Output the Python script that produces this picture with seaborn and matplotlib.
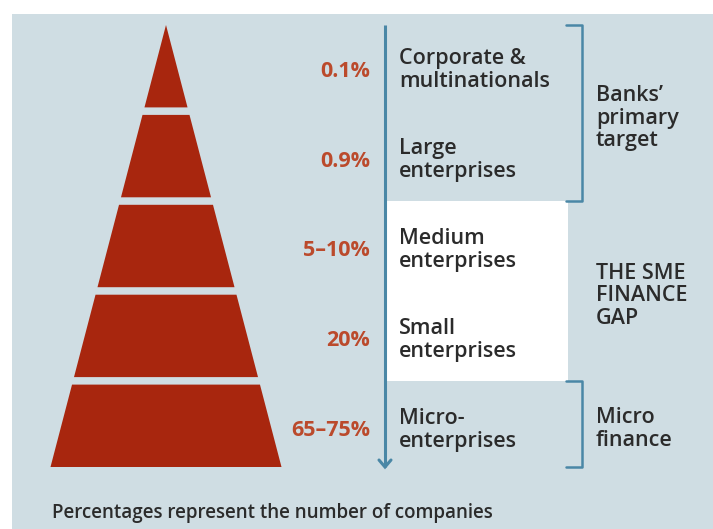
import matplotlib
matplotlib.use("Agg")
import matplotlib.pyplot as plt
import seaborn as sns
from matplotlib.patches import Polygon, Rectangle

# ---- data ----
categories = ["Corporate &\nmultinationals", "Large\nenterprises", "Medium\nenterprises",
              "Small\nenterprises", "Micro-\nenterprises"]
share_labels = ["0.1%", "0.9%", "5\u201310%", "20%", "65\u201375%"]
groups = ["Banks\u2019\nprimary\ntarget", "THE SME\nFINANCE\nGAP", "Micro\nfinance"]
group_tiers = [(0, 1), (2, 3), (4, 4)]
footnote = "Percentages represent the number of companies"

sns.set_theme(style="white")
plt.rcParams['font.family'] = ['Open Sans', 'DejaVu Sans']

BG = "#cfdde3"
RED = "#a8260e"
PCT = "#bb4a2c"
TEAL = "#4a87a6"
TXT = "#2b2b2b"

fig = plt.figure(figsize=(7.13, 5.29), dpi=100)
ax = fig.add_axes([0, 0, 1, 1])
ax.set_xlim(0, 713)
ax.set_ylim(529, 0)
ax.axis("off")

# background panel
ax.add_patch(Rectangle((12, 14), 713 - 12, 529 - 14, facecolor=BG, edgecolor="none", zorder=0))

# pyramid geometry
apex_x, apex_y, base_y, base_half = 166, 25, 467, 115.5
gap = 7.5
n = len(categories)
tier_h = (base_y - apex_y + gap) / n
slope = base_half / (base_y - apex_y)

def half(y):
    return (y - apex_y) * slope

centers = []
for i in range(n):
    top = apex_y + i * tier_h
    bot = top + tier_h - gap
    pts = [(apex_x - half(top), top), (apex_x + half(top), top),
           (apex_x + half(bot), bot), (apex_x - half(bot), bot)]
    ax.add_patch(Polygon(pts, closed=True, facecolor=RED, edgecolor="none", zorder=2))
    centers.append((top + bot) / 2)

# white SME gap box
sme_top = apex_y + 2 * tier_h - gap / 2
sme_bot = apex_y + 4 * tier_h - gap / 2
ax.add_patch(Rectangle((387, sme_top), 568 - 387, sme_bot - sme_top,
                       facecolor="white", edgecolor="none", zorder=1))

# arrow
ax.plot([385, 385], [apex_y, base_y], color=TEAL, lw=2.2, zorder=3, solid_capstyle="butt")
ax.plot([379, 385, 391], [base_y - 7, base_y, base_y - 7], color=TEAL, lw=2.2, zorder=3,
        solid_joinstyle="miter")

# labels
for i in range(n):
    ax.text(370, centers[i] + 5, share_labels[i], ha="right", va="center",
            fontsize=15.5, color=PCT, fontweight="bold", zorder=4)
    ax.text(399, centers[i] + 4, categories[i], ha="left", va="center",
            fontsize=15.5, color=TXT, fontweight="semibold", linespacing=1.1, zorder=4)

# brackets and group labels
for (a, b), g in zip(group_tiers, groups):
    if a == 2:
        y0, y1 = sme_top, sme_bot
    else:
        y0 = apex_y if a == 0 else apex_y + a * tier_h - gap / 2
        y1 = apex_y + (b + 1) * tier_h - gap / 2 if b < n - 1 else base_y
        ax.plot([566, 582, 582, 566], [y0, y0, y1, y1], color=TEAL, lw=1.8, zorder=3)
    ax.text(596, (y0 + y1) / 2 + 5, g, ha="left", va="center", fontsize=15.5,
            color=TXT, fontweight="semibold", linespacing=1.1, zorder=4)

ax.text(52, 513, footnote, ha="left", va="center", fontsize=13.5, color=TXT,
        fontweight="semibold", zorder=4)

fig.savefig("out.png", dpi=100)
